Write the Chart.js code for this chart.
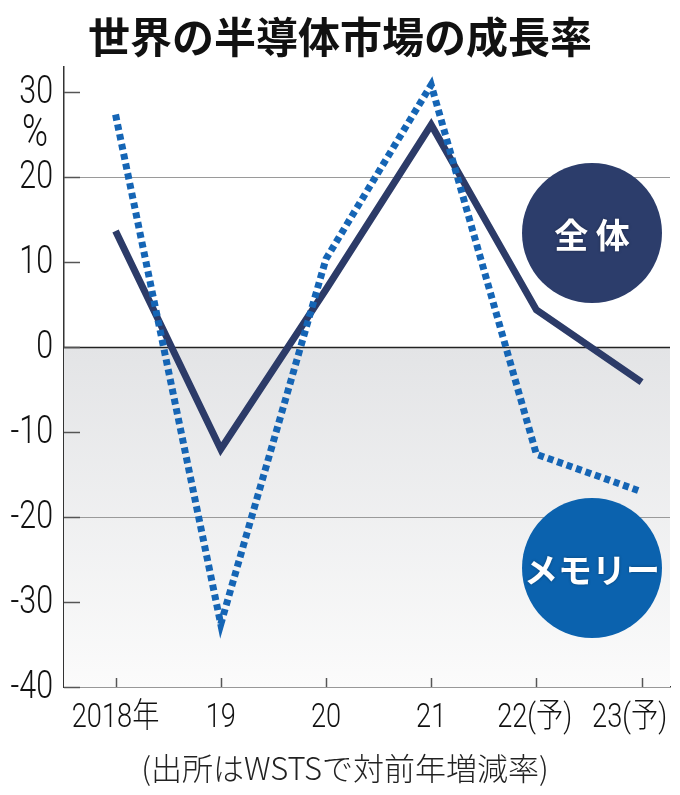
<!DOCTYPE html>
<html>
<head>
<meta charset="utf-8">
<script src="https://cdn.jsdelivr.net/npm/chart.js@4.4.0/dist/chart.umd.min.js"></script>
<style>
  html, body { margin: 0; padding: 0; background: #fff; }
  #wrap { width: 680px; height: 795px; }
</style>
</head>
<body>
<div id="wrap"><canvas id="chart" width="680" height="795"></canvas></div>
<script>
const categories = ['2018年', '19', '20', '21', '22(予)', '23(予)'];
const totalValues = [13.7, -12.0, 6.8, 26.2, 4.4, -4.1];
const memoryValues = [27.4, -32.6, 10.4, 30.9, -12.6, -17.0];
const yTicks = [-40, -30, -20, -10, 0, 10, 20, 30];
const gridValues = [20, -20];

const titleText = '世界の半導体市場の成長率';
const noteText = '(出所はWSTSで対前年増減率)';
const jp = '"Noto Sans CJK JP", sans-serif';
const narrowFont = 'Roboto, "Noto Sans CJK JP", sans-serif';
const sx = 0.8;

function narrowWidth(ctx, text, size) {
    ctx.save();
    ctx.font = '300 ' + size + 'px ' + narrowFont;
    const w = ctx.measureText(text).width * sx;
    ctx.restore();
    return w;
}

// 細長い文字（横方向を縮める）
function narrowText(ctx, text, left, y, size) {
    ctx.save();
    ctx.font = '300 ' + size + 'px ' + narrowFont;
    ctx.textBaseline = 'middle';
    ctx.textAlign = 'left';
    ctx.translate(left, y);
    ctx.scale(sx, 1);
    ctx.fillText(text, 0, 0);
    ctx.restore();
}

// 装飾（タイトル、網掛け、目盛り、凡例の丸）
const decorPlugin = {
    id: 'decor',
    beforeDatasetsDraw(chart) {
        const ctx = chart.ctx;
        const area = chart.chartArea;
        const y = chart.scales.y;
        const x = chart.scales.x;
        const y0 = y.getPixelForValue(0);

        // マイナス側の網掛け
        const grad = ctx.createLinearGradient(0, y0, 0, area.bottom);
        grad.addColorStop(0, '#e3e4e6');
        grad.addColorStop(1, '#fbfbfb');
        ctx.save();
        ctx.fillStyle = grad;
        ctx.fillRect(area.left, y0, area.right - area.left, area.bottom - y0);

        // 横線
        ctx.lineWidth = 1.2;
        gridValues.forEach(v => {
            const py = Math.round(y.getPixelForValue(v)) + 0.5;
            ctx.strokeStyle = '#9a9a9a';
            ctx.beginPath();
            ctx.moveTo(area.left, py);
            ctx.lineTo(area.right, py);
            ctx.stroke();
        });
        ctx.strokeStyle = '#222';
        ctx.lineWidth = 1.5;
        ctx.beginPath();
        ctx.moveTo(area.left, Math.round(y0) + 0.5);
        ctx.lineTo(area.right, Math.round(y0) + 0.5);
        ctx.stroke();

        // 目盛り（内向き）
        ctx.strokeStyle = '#555';
        ctx.lineWidth = 1.5;
        yTicks.forEach(v => {
            const py = Math.round(y.getPixelForValue(v)) + 0.5;
            ctx.beginPath();
            ctx.moveTo(area.left, py);
            ctx.lineTo(area.left + 16, py);
            ctx.stroke();
        });
        categories.forEach((c, i) => {
            const px = Math.round(x.getPixelForValue(i)) + 0.5;
            ctx.beginPath();
            ctx.moveTo(px, area.bottom);
            ctx.lineTo(px, area.bottom - 9);
            ctx.stroke();
        });
        ctx.restore();
    },
    afterDraw(chart) {
        const ctx = chart.ctx;
        const area = chart.chartArea;
        const y = chart.scales.y;
        const x = chart.scales.x;
        ctx.save();

        // タイトル
        ctx.fillStyle = '#111';
        ctx.font = 'bold 42px ' + jp;
        ctx.textAlign = 'center';
        ctx.textBaseline = 'middle';
        ctx.fillText(titleText, 340, 37);

        // 目盛りラベル
        ctx.fillStyle = '#111';
        yTicks.forEach(v => {
            const t = String(v);
            narrowText(ctx, t, 53 - narrowWidth(ctx, t, 38), y.getPixelForValue(v) + 1, 38);
        });
        narrowText(ctx, '%', 35 - narrowWidth(ctx, '%', 44) / 2, y.getPixelForValue(25), 44);

        // 横軸ラベル（右端ははみ出さないよう左へ寄せる）
        let nextLeft = 667;
        const lefts = [];
        for (let i = categories.length - 1; i >= 0; i--) {
            const w = narrowWidth(ctx, categories[i], 34);
            let left = x.getPixelForValue(i) - w / 2;
            left = Math.min(left, nextLeft - w);
            lefts[i] = left;
            nextLeft = left - 20;
        }
        categories.forEach((c, i) => narrowText(ctx, c, lefts[i], area.bottom + 31, 34));

        // 出所
        ctx.font = '300 31px ' + jp;
        ctx.fillStyle = '#222';
        ctx.textAlign = 'center';
        ctx.fillText(noteText, 345, 768);

        // 凡例の丸
        drawBadge(ctx, 592, 233, 70, '#2c3d6b', '全 体');
        drawBadge(ctx, 592, 568, 70, '#0b62ae', 'メモリー');
        ctx.restore();
    }
};

function drawBadge(ctx, cx, cy, r, color, label) {
    ctx.beginPath();
    ctx.arc(cx, cy, r, 0, Math.PI * 2);
    ctx.fillStyle = color;
    ctx.fill();
    ctx.fillStyle = '#fff';
    ctx.font = 'bold 34px ' + jp;
    ctx.textAlign = 'center';
    ctx.textBaseline = 'middle';
    ctx.shadowColor = 'rgba(0,0,0,0.35)';
    ctx.shadowBlur = 3;
    ctx.fillText(label, cx, cy + 2);
    ctx.shadowBlur = 0;
}

new Chart(document.getElementById('chart').getContext('2d'), {
    type: 'line',
    data: {
        datasets: [{
            label: 'メモリー',
            data: memoryValues.map((v, i) => ({ x: i, y: v })),
            borderColor: '#1565b5',
            borderWidth: 7,
            borderDash: [6, 4],
            borderCapStyle: 'butt',
            borderJoinStyle: 'miter',
            pointRadius: 0,
            tension: 0
        }, {
            label: '全体',
            data: totalValues.map((v, i) => ({ x: i, y: v })),
            borderColor: '#2c3b68',
            borderWidth: 7,
            borderJoinStyle: 'miter',
            pointRadius: 0,
            tension: 0
        }]
    },
    options: {
        responsive: false,
        animation: false,
        layout: { autoPadding: false, padding: { top: 67, right: 10, left: 0, bottom: 0 } },
        plugins: {
            legend: { display: false },
            tooltip: { enabled: false }
        },
        scales: {
            x: {
                type: 'linear',
                min: -0.49,
                max: 5.27,
                afterBuildTicks: s => { s.ticks = categories.map((c, i) => ({ value: i })); },
                afterFit: s => { s.height = 108; },
                grid: { display: false, drawTicks: false },
                border: { display: true, color: '#333', width: 1.5 },
                ticks: { display: false }
            },
            y: {
                min: -40,
                max: 33,
                afterBuildTicks: s => { s.ticks = yTicks.map(v => ({ value: v })); },
                afterFit: s => { s.width = 64; },
                grid: { display: false, drawTicks: false },
                border: { display: true, color: '#333', width: 1.5 },
                ticks: { display: false }
            }
        }
    },
    plugins: [decorPlugin]
});
</script>
</body>
</html>
